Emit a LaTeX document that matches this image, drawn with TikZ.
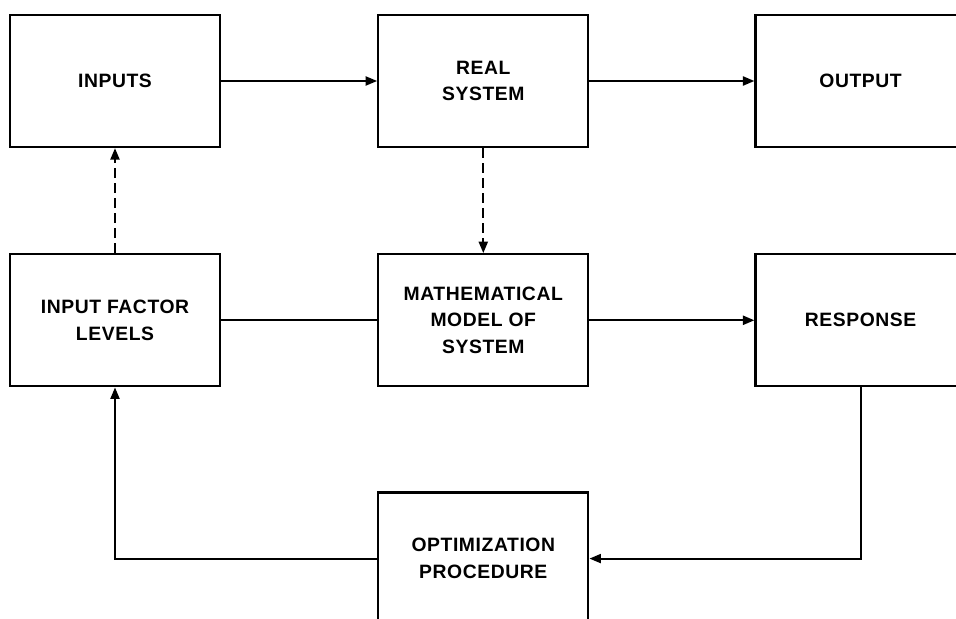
\documentclass[tikz,border=0pt]{standalone}
\usepackage{fontspec}
\newfontfamily\boxfont[LetterSpace=3]{Liberation Sans}
\usepackage{tikz}
\usetikzlibrary{positioning, arrows.meta}

\begin{document}
\begin{tikzpicture}[
    node distance=2.1cm and 3.12cm,
    block/.style={rectangle, draw, line width=1.3pt, minimum width=4.2cm, minimum height=2.64cm, align=center,
        font=\boxfont\bfseries\fontsize{11}{15.3}\selectfont},
    flow/.style={-{Triangle[length=2.3mm, width=1.8mm]}, line width=1.2pt},
    link/.style={line width=1.2pt},
    model/.style={-{Triangle[length=2.3mm, width=1.8mm]}, line width=1.2pt, dash pattern=on 2mm off 1mm}
]
\useasboundingbox (0,0) rectangle (19.12,-12.36);
\clip (0,0) rectangle (19.12,-12.36);

% Nodes
\node[block] (inputs) at (2.3,-1.62) {INPUTS};
\node[block, right=of inputs] (real) {REAL\\SYSTEM};
\node[block, right=3.3cm of real] (output) {OUTPUT};

\node[block, below=of inputs] (levels) {INPUT FACTOR\\LEVELS};
\node[block, right=of levels] (math) {MATHEMATICAL\\MODEL OF\\SYSTEM};
\node[block, right=3.3cm of math] (response) {RESPONSE};

\node[block, below=2.08cm of math] (optim) {OPTIMIZATION\\PROCEDURE};

% Edges
\draw[flow] (inputs) -- (real);
\draw[flow] (real) -- (output);
\draw[model] (levels) -- (inputs);
\draw[model] (real) -- (math);
\draw[link] (levels) -- (math);
\draw[flow] (math) -- (response);
\draw[flow] (response.south) |- (optim.east);
\draw[flow] (optim.west) -| (levels.south);

\end{tikzpicture}
\end{document}
